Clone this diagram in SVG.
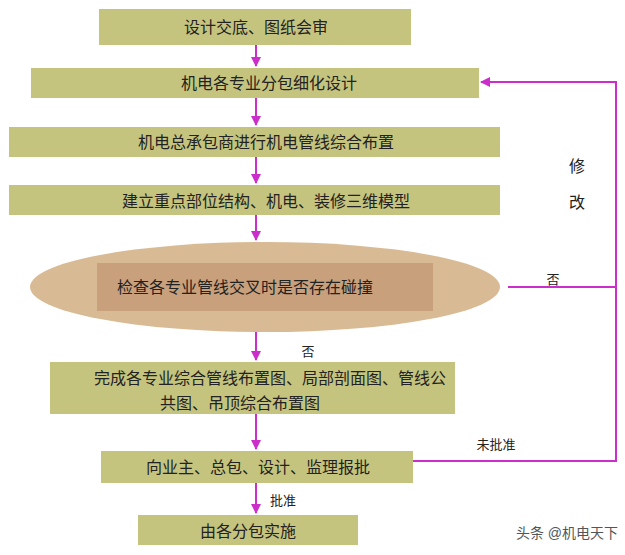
<svg xmlns="http://www.w3.org/2000/svg" width="625" height="555" viewBox="0 0 625 555">
<defs>
<style>
.b{fill:#c5c47e;}
.t{font-family:"Liberation Sans","Noto Sans CJK SC",sans-serif;font-size:16px;fill:#222;text-anchor:middle;}
.l{font-family:"Liberation Sans","Noto Sans CJK SC",sans-serif;font-size:13px;fill:#222;text-anchor:middle;}
.c{stroke:#cc2ecc;stroke-width:2;fill:none;}
</style>
<marker id="a" viewBox="0 0 10 10" refX="9" refY="5" markerWidth="5" markerHeight="5" orient="auto"><path d="M0,0L10,5L0,10z" fill="#cc2ecc"/></marker>
</defs>
<rect width="625" height="555" fill="#fff"/>
<g id="n1"><rect class="b" x="99" y="9" width="312" height="36"/><text class="t" x="256" y="33">设计交底、图纸会审</text></g>
<g id="n2"><rect class="b" x="31" y="68" width="448" height="30"/><text class="t" x="269" y="89">机电各专业分包细化设计</text></g>
<g id="n3"><rect class="b" x="9" y="127" width="491" height="30"/><text class="t" x="266" y="148">机电总承包商进行机电管线综合布置</text></g>
<g id="n4"><rect class="b" x="9" y="185" width="491" height="30"/><text class="t" x="266" y="207">建立重点部位结构、机电、装修三维模型</text></g>
<g id="n5"><ellipse cx="265" cy="287" rx="235" ry="45" fill="#d8bb94"/><rect x="97" y="263" width="336" height="48" fill="#c9a07c"/><text class="t" x="245" y="293">检查各专业管线交叉时是否存在碰撞</text></g>
<g id="n6"><rect class="b" x="50" y="362" width="405" height="52"/><text class="t" x="270" y="384">完成各专业综合管线布置图、局部剖面图、管线公</text><text class="t" x="240" y="409">共图、吊顶综合布置图</text></g>
<g id="n7"><rect class="b" x="101" y="451" width="312" height="32"/><text class="t" x="258" y="473">向业主、总包、设计、监理报批</text></g>
<g id="n8"><rect class="b" x="138" y="515" width="220" height="30"/><text class="t" x="248" y="537">由各分包实施</text></g>
<g id="conn">
<path class="c" d="M256,45V66" marker-end="url(#a)"/>
<path class="c" d="M256,98V125" marker-end="url(#a)"/>
<path class="c" d="M256,157V183" marker-end="url(#a)"/>
<path class="c" d="M256,215V240" marker-end="url(#a)"/>
<path class="c" d="M256,332V360" marker-end="url(#a)"/>
<path class="c" d="M256,414V449" marker-end="url(#a)"/>
<path class="c" d="M256,483V513" marker-end="url(#a)"/>
<path class="c" d="M508,287H616"/>
<path class="c" d="M413,461H616V82H481" marker-end="url(#a)"/>
</g>
<text class="l" x="553" y="284">否</text>
<text class="l" x="308" y="356">否</text>
<text class="l" x="496" y="449">未批准</text>
<text class="l" x="283" y="505">批准</text>
<text class="t" x="577" y="172">修</text>
<text class="t" x="577" y="208">改</text>
<text x="567" y="538" font-family="Liberation Sans,'Noto Sans CJK SC',sans-serif" font-size="14" fill="#555" text-anchor="middle">头条 @机电天下</text>
</svg>
